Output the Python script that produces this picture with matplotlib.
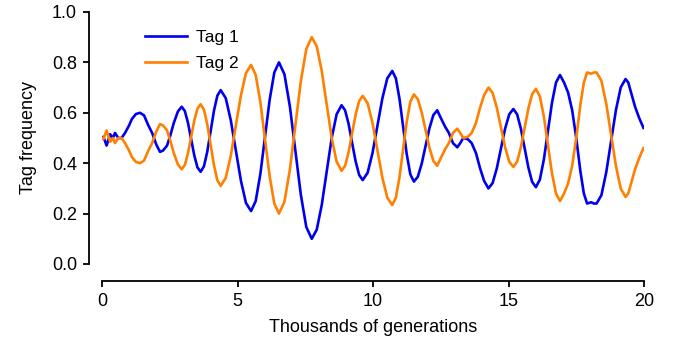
import matplotlib
matplotlib.use("Agg")
import matplotlib.pyplot as plt

plt.rcParams['font.family'] = ['Liberation Sans', 'DejaVu Sans']

# Thousands of generations
t = [0.00, 0.05, 0.17, 0.30, 0.40, 0.48, 0.60, 0.72, 0.85, 1.00, 1.10, 1.25,
     1.40, 1.55, 1.71, 1.85, 2.00, 2.14, 2.25, 2.40, 2.52, 2.65, 2.80, 2.94,
     3.057, 3.173, 3.29, 3.407, 3.523, 3.64,
     3.763, 3.887, 4.01, 4.133, 4.257, 4.38,
     4.567, 4.753, 4.94, 5.127, 5.313, 5.50,
     5.672, 5.843, 6.015, 6.187, 6.358, 6.53,
     6.732, 6.933, 7.135, 7.337, 7.538, 7.74,
     7.923, 8.107, 8.29, 8.473, 8.657, 8.84,
     8.97, 9.10, 9.23, 9.36, 9.49, 9.62,
     9.802, 9.983, 10.165, 10.347, 10.528, 10.71,
     10.843, 10.977, 11.11, 11.243, 11.377, 11.51,
     11.653, 11.797, 11.94, 12.083, 12.227, 12.37,
     12.50, 12.66, 12.80, 12.95, 13.11, 13.22, 13.33, 13.50, 13.64,
     13.80, 13.95, 14.10, 14.26,
     14.413, 14.567, 14.72, 14.873, 15.027, 15.18,
     15.318, 15.457, 15.595, 15.733, 15.872, 16.01,
     16.158, 16.307, 16.455, 16.603, 16.752, 16.90,
     17.05, 17.20, 17.35, 17.50, 17.65, 17.78, 17.90, 18.05, 18.15, 18.25,
     18.428, 18.607, 18.785, 18.963, 19.142, 19.32,
     19.42, 19.55, 19.67, 19.82, 19.98]

tag1 = [0.500, 0.505, 0.470, 0.515, 0.500, 0.520, 0.500, 0.500, 0.520, 0.550, 0.575, 0.595,
        0.600, 0.590, 0.550, 0.520, 0.475, 0.445, 0.450, 0.470, 0.510, 0.560, 0.605, 0.624,
        0.607, 0.560, 0.495, 0.430, 0.383, 0.366,
        0.388, 0.447, 0.528, 0.609, 0.668, 0.690,
        0.658, 0.570, 0.450, 0.330, 0.242, 0.210,
        0.250, 0.357, 0.505, 0.652, 0.760, 0.800,
        0.753, 0.625, 0.450, 0.275, 0.147, 0.100,
        0.136, 0.233, 0.365, 0.498, 0.594, 0.630,
        0.610, 0.556, 0.480, 0.407, 0.353, 0.333,
        0.362, 0.441, 0.550, 0.658, 0.737, 0.766,
        0.737, 0.656, 0.547, 0.437, 0.356, 0.327,
        0.346, 0.398, 0.469, 0.539, 0.591, 0.610,
        0.580, 0.545, 0.520, 0.480, 0.463, 0.480, 0.500, 0.495, 0.480,
        0.440, 0.380, 0.330, 0.300,
        0.321, 0.379, 0.458, 0.536, 0.594, 0.615,
        0.594, 0.537, 0.460, 0.383, 0.326, 0.305,
        0.335, 0.416, 0.528, 0.639, 0.720, 0.750,
        0.720, 0.680, 0.610, 0.500, 0.370, 0.280, 0.240, 0.245, 0.240, 0.240,
        0.273, 0.364, 0.487, 0.610, 0.701, 0.734,
        0.720, 0.670, 0.624, 0.580, 0.540]

tag2 = [0.500, 0.495, 0.530, 0.485, 0.500, 0.480, 0.500, 0.500, 0.480, 0.450, 0.425, 0.405,
        0.400, 0.410, 0.450, 0.480, 0.525, 0.555, 0.550, 0.530, 0.490, 0.440, 0.395, 0.376,
        0.393, 0.440, 0.505, 0.570, 0.617, 0.634,
        0.612, 0.553, 0.472, 0.391, 0.332, 0.310,
        0.342, 0.430, 0.550, 0.670, 0.758, 0.790,
        0.750, 0.643, 0.495, 0.348, 0.240, 0.200,
        0.247, 0.375, 0.550, 0.725, 0.853, 0.900,
        0.864, 0.767, 0.635, 0.502, 0.406, 0.370,
        0.390, 0.444, 0.520, 0.593, 0.647, 0.667,
        0.638, 0.559, 0.450, 0.342, 0.263, 0.234,
        0.263, 0.344, 0.453, 0.563, 0.644, 0.673,
        0.654, 0.602, 0.531, 0.461, 0.409, 0.390,
        0.420, 0.455, 0.480, 0.520, 0.537, 0.520, 0.500, 0.505, 0.520,
        0.560, 0.620, 0.670, 0.700,
        0.679, 0.621, 0.542, 0.464, 0.406, 0.385,
        0.406, 0.463, 0.540, 0.617, 0.674, 0.695,
        0.665, 0.584, 0.472, 0.361, 0.280, 0.250,
        0.280, 0.320, 0.390, 0.500, 0.630, 0.720, 0.760, 0.755, 0.760, 0.760,
        0.727, 0.636, 0.513, 0.390, 0.299, 0.266,
        0.280, 0.330, 0.376, 0.420, 0.460]

xticks = [0, 5, 10, 15, 20]
yticks = [0.0, 0.2, 0.4, 0.6, 0.8, 1.0]

W, H = 673, 339
fig = plt.figure(figsize=(W / 100, H / 100), dpi=100)
ax = fig.add_axes([102 / W, (H - 264) / H, (644 - 102) / W, (264 - 12) / H])

ax.plot(t, tag1, color='#0000ee', lw=1.9, label='Tag 1', solid_joinstyle='round')
ax.plot(t, tag2, color='#ff8000', lw=1.9, label='Tag 2', solid_joinstyle='round')

ax.set_xlim(0, 20)
ax.set_ylim(0, 1)
ax.set_xticks(xticks)
ax.set_yticks(yticks)
ax.set_yticklabels([f"{v:.1f}" for v in yticks])

for s in ['top', 'right']:
    ax.spines[s].set_visible(False)
ax.spines['left'].set_position(('outward', 9))
ax.spines['bottom'].set_position(('outward', 12))
for s in ['left', 'bottom']:
    ax.spines[s].set_linewidth(1.3)
ax.tick_params(direction='out', length=4, width=1.3, labelsize=13, colors='black')
ax.tick_params(axis='x', pad=5)
ax.tick_params(axis='y', pad=5)

ax.set_xlabel('Thousands of generations', fontsize=13, labelpad=6)
ax.set_ylabel('Tag frequency', fontsize=13, labelpad=11)

leg = ax.legend(loc='upper left', bbox_to_anchor=(145 / W, 1 - 30 / H),
                bbox_transform=fig.transFigure, frameon=False, fontsize=12.5,
                handlelength=2.4, handletextpad=0.55, borderpad=0,
                borderaxespad=0, labelspacing=0.6)

fig.savefig('out.png', dpi=100)
